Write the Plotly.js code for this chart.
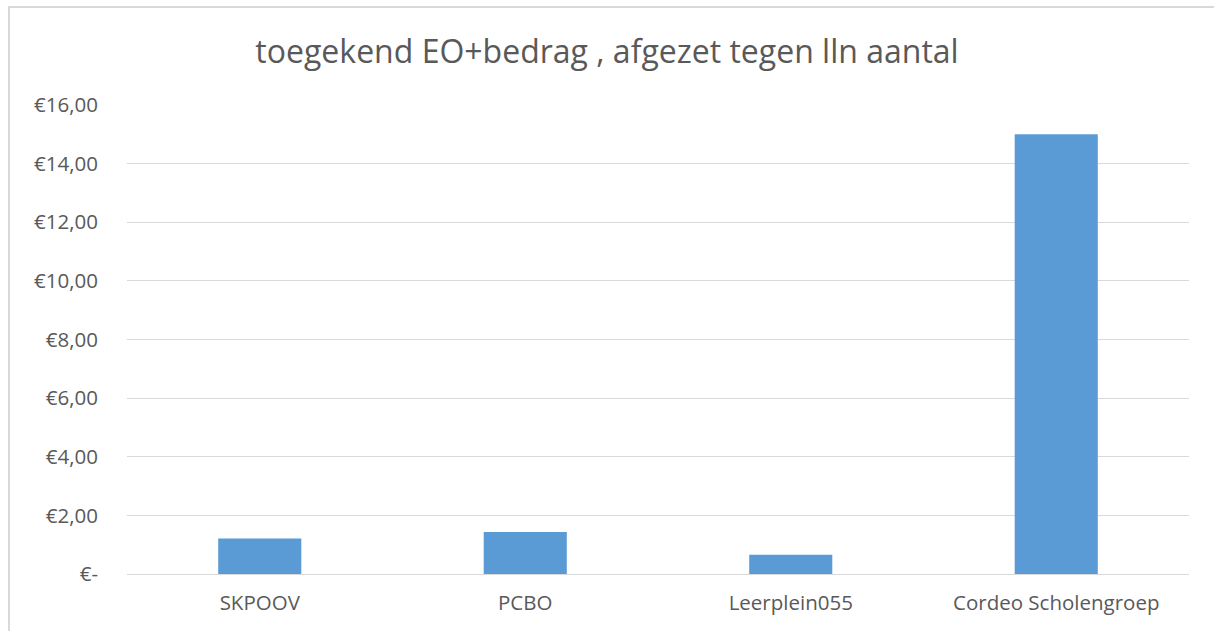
<!DOCTYPE html>
<html>
<head>
<meta charset="utf-8">
<script src="https://cdn.plot.ly/plotly-3.0.1.min.js"></script>
<style>
html,body{margin:0;padding:0;background:#fff;}
#wrap{position:relative;width:1214px;height:631px;}
#chart{width:1214px;height:631px;}
#frame{position:absolute;left:8px;top:6px;right:-2px;bottom:-2px;border-left:2px solid #d9d9d9;border-top:2px solid #d9d9d9;pointer-events:none;}
</style>
</head>
<body>
<div id="wrap"><div id="chart"></div><div id="frame"></div></div>
<script>
const categories = ["SKPOOV", "PCBO", "Leerplein055", "Cordeo Scholengroep"];
const values = [1.21, 1.43, 0.66, 15.0];
const tickValues = [0, 2, 4, 6, 8, 10, 12, 14, 16];
const tickLabels = ["€-", "€2,00", "€4,00", "€6,00", "€8,00", "€10,00", "€12,00", "€14,00", "€16,00"];
const chartTitle = "toegekend EO+bedrag , afgezet tegen lln aantal";

const font = "Open Sans, Noto Sans, sans-serif";
Plotly.newPlot("chart", [{
  type: "bar",
  x: categories,
  y: values,
  marker: {color: "#5b9bd5", line: {width: 0}},
  hoverinfo: "x+y"
}], {
  width: 1214, height: 631,
  margin: {l: 127, r: 25, t: 105, b: 57},
  paper_bgcolor: "#ffffff",
  plot_bgcolor: "#ffffff",
  bargap: 0.687,
  showlegend: false,
  title: {text: chartTitle, font: {family: font, size: 32, color: "#595959"}, x: 0.5, xanchor: "center", y: 0.918, yanchor: "middle"},
  xaxis: {
    showgrid: false, zeroline: false, showline: false, ticks: "",
    tickfont: {family: font, size: 20.5, color: "#595959"},
    ticklabelstandoff: 14
  },
  yaxis: {
    range: [0, 16], tickvals: tickValues, ticktext: tickLabels,
    showgrid: true, gridcolor: "#d9d9d9", gridwidth: 1.3,
    zeroline: true, zerolinecolor: "#d9d9d9", zerolinewidth: 1.3,
    showline: false, ticks: "",
    tickfont: {family: font, size: 20.5, color: "#595959"},
    ticklabelstandoff: 28
  }
}, {displayModeBar: false, staticPlot: false});
</script>
</body>
</html>
